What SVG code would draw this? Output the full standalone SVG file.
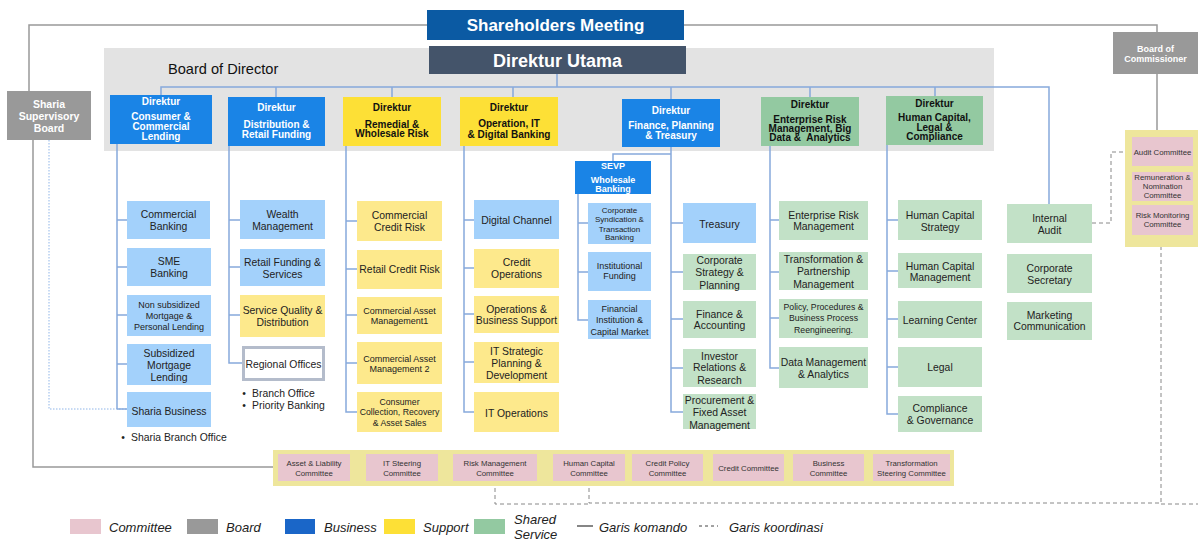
<svg xmlns="http://www.w3.org/2000/svg" width="1198" height="540" viewBox="0 0 1198 540">
<style>
text{font-family:"Liberation Sans",Arial,sans-serif;text-anchor:middle}
.t{font-size:10.4px;fill:#222}
.t9{font-size:9px;fill:#222}
.t8{font-size:8px;fill:#222}
.tc{font-size:7.8px;fill:#333}
.dw{font-size:10px;font-weight:bold;fill:#fff}
.dk{font-size:10px;font-weight:bold;fill:#111}
.lb{fill:#a3d1fb}
.ly{fill:#fde98c}
.lg{fill:#c2e1c7}
.db{fill:#1a84e6}
.dy{fill:#fde036}
.dg{fill:#93c9a1}
.gb{fill:#999}
.pk{fill:#e8c6cf}
.yc{fill:#eee69c}
.cn{fill:none;stroke:#87a9dc;stroke-width:1.5}
.gl{fill:none;stroke:#999;stroke-width:1.5}
.ds{fill:none;stroke:#888;stroke-width:1;stroke-dasharray:4 3}
.lt{font-size:13px;font-style:italic;fill:#222;text-anchor:start}
</style>

<rect id="bod-bg" x="104" y="48" width="890" height="103" fill="#e3e3e3"/>
<text x="168" y="74" style="font-size:14.6px;fill:#111;text-anchor:start">Board of Director</text>

<g id="connectors">
  <path class="gl" d="M29,91 V25 H1157 V33"/>
  <path class="gl" d="M1157,74 V130"/>
  <path class="gl" d="M33,140 V467 H273"/>
  <path d="M49,140 V409 H127" fill="none" stroke="#8fb5e8" stroke-width="1" stroke-dasharray="1.5 1.5"/>
  <path class="cn" d="M557,74 V87 M161,95 V87 H1049 V204 M276,87 V97 M392,87 V97 M513,87 V97 M671,87 V99 M810,87 V97 M935,87 V96"/>
  <path class="cn" d="M117,144 V409 M117,220 H127 M117,267 H127 M117,315 H127 M117,364 H127 M117,409 H127"/>
  <path class="cn" d="M229,146 V363 H242 M229,220 H240 M229,267 H240 M229,315 H240"/>
  <path class="cn" d="M346,146 V412 H357 M346,221 H357 M346,269 H357 M346,315 H357 M346,363 H357"/>
  <path class="cn" d="M464,146 V412 H474 M464,220 H474 M464,268 H474 M464,314 H474 M464,362 H474"/>
  <path class="cn" d="M671,147 V412 H683 M671,223 H683 M671,272 H683 M671,319 H683 M671,368 H683 M671,154 H613 V161"/>
  <path class="cn" d="M578,194 V320 H588 M578,223 H588 M578,272 H588"/>
  <path class="cn" d="M770,146 V368 H779 M770,220 H779 M770,272 H779 M770,318 H779"/>
  <path class="cn" d="M887,145 V414 H898 M887,220 H898 M887,271 H898 M887,319 H898 M887,367 H898"/>
  <path class="ds" d="M1092,223 H1111 V152 H1132"/>
  <path class="ds" d="M495,481 V504 H589"/>
  <path class="ds" d="M589,481 V503 H1161 V247"/>
  <path class="ds" d="M1161,504 H1198"/>
</g>

<g id="shareholders"><rect x="427" y="10" width="257" height="30" fill="#0b5aa3"/><text x="555.5" y="31" style="font-size:17px;font-weight:bold;fill:#fff">Shareholders Meeting</text></g>
<g id="direktur-utama"><rect x="429" y="46" width="257" height="28" fill="#44546a"/><text x="557.5" y="66.5" style="font-size:18px;font-weight:bold;fill:#fff">Direktur Utama</text></g>

<g id="sharia-supervisory"><rect class="gb" x="7" y="91" width="84" height="49"/><text class="dw" style="font-size:10.5px" x="49" y="107.7">Sharia</text><text class="dw" style="font-size:10.5px" x="49" y="119.7">Supervisory</text><text class="dw" style="font-size:10.5px" x="49" y="131.7">Board</text></g>
<g id="board-commissioner"><rect class="gb" x="1113" y="32" width="85" height="42"/><text class="dw" style="font-size:9px" x="1155.5" y="52.2">Board of</text><text class="dw" style="font-size:9px" x="1155.5" y="62.2">Commissioner</text></g>

<g id="dir-ccl"><rect class="db" x="110" y="95" width="102" height="49"/><text class="dw" x="161" y="105.2">Direktur</text><text class="dw" x="161" y="120.3">Consumer &amp;</text><text class="dw" x="161" y="130.3">Commercial</text><text class="dw" x="161" y="139.6">Lending</text></g>
<g id="dir-distribution"><rect class="db" x="228" y="97" width="97" height="49"/><text class="dw" x="276.5" y="111.3">Direktur</text><text class="dw" x="276.5" y="127.6">Distribution &amp;</text><text class="dw" x="276.5" y="137.6">Retail Funding</text></g>
<g id="dir-remedial"><rect class="dy" x="343" y="97" width="98" height="49"/><text class="dk" x="392" y="111">Direktur</text><text class="dk" x="392" y="127.6">Remedial &amp;</text><text class="dk" x="392" y="137">Wholesale Risk</text></g>
<g id="dir-operation"><rect class="dy" x="460" y="97" width="98" height="49"/><text class="dk" x="509" y="111">Direktur</text><text class="dk" x="509" y="127">Operation, IT</text><text class="dk" x="509" y="138.3">&amp; Digital Banking</text></g>
<g id="dir-finance"><rect class="db" x="622" y="99" width="98" height="48"/><text class="dw" x="671" y="113.6">Direktur</text><text class="dw" x="671" y="129">Finance, Planning</text><text class="dw" x="671" y="139">&amp; Treasury</text></g>
<g id="dir-erm"><rect class="dg" x="761" y="97" width="98" height="49"/><text class="dk" x="810" y="107.6">Direktur</text><text class="dk" x="810" y="122.6">Enterprise Risk</text><text class="dk" x="810" y="132">Management, Big</text><text class="dk" x="810" y="141">Data &amp;&#160; Analytics</text></g>
<g id="dir-hc"><rect class="dg" x="886" y="96" width="97" height="49"/><text class="dk" x="934.5" y="107">Direktur</text><text class="dk" x="934.5" y="121.3">Human Capital,</text><text class="dk" x="934.5" y="131">Legal &amp;</text><text class="dk" x="934.5" y="140.3">Compliance</text></g>

<g id="sevp"><rect class="db" x="575" y="161" width="76" height="33"/><text class="dw" style="font-size:9px" x="613" y="169">SEVP</text><text class="dw" style="font-size:9px" x="613" y="182.6">Wholesale</text><text class="dw" style="font-size:9px" x="613" y="191.6">Banking</text></g>

<!-- Column 1 -->
<g id="commercial-banking"><rect class="lb" x="127" y="201" width="83" height="38"/><text class="t" x="168.5" y="218">Commercial</text><text class="t" x="168.5" y="230">Banking</text></g>
<g id="sme-banking"><rect class="lb" x="127" y="248" width="84" height="38"/><text class="t" x="169" y="265">SME</text><text class="t" x="169" y="276.5">Banking</text></g>
<g id="non-subsidized"><rect class="lb" x="127" y="295" width="84" height="41"/><text class="t9" x="169" y="308">Non subsidized</text><text class="t9" x="169" y="319">Mortgage &amp;</text><text class="t9" x="169" y="330">Personal Lending</text></g>
<g id="subsidized"><rect class="lb" x="127" y="344" width="84" height="41"/><text class="t" x="169" y="356.5">Subsidized</text><text class="t" x="169" y="368.5">Mortgage</text><text class="t" x="169" y="381">Lending</text></g>
<g id="sharia-business"><rect class="lb" x="127" y="392" width="84" height="35"/><text class="t" x="169" y="414.5">Sharia Business</text></g>
<text class="t" x="131" y="441" style="text-anchor:start">Sharia Branch Office</text><text class="t" x="123" y="441">•</text>

<!-- Column 2 -->
<g id="wealth"><rect class="lb" x="240" y="200" width="85" height="39"/><text class="t" x="282.5" y="217.7">Wealth</text><text class="t" x="282.5" y="229.7">Management</text></g>
<g id="retail-funding"><rect class="lb" x="240" y="249" width="85" height="37"/><text class="t" x="282.5" y="266">Retail Funding &amp;</text><text class="t" x="282.5" y="277.7">Services</text></g>
<g id="service-quality"><rect class="ly" x="240" y="295" width="85" height="42"/><text class="t" x="282.5" y="314.4">Service Quality &amp;</text><text class="t" x="282.5" y="326">Distribution</text></g>
<g id="regional-offices"><rect x="243.5" y="347.5" width="80" height="32" fill="#fff" stroke="#b4bccb" stroke-width="3"/><text class="t" x="283.5" y="367.7">Regional Offices</text></g>
<text class="t" x="244" y="397">•</text><text class="t" x="252" y="397" style="text-anchor:start">Branch Office</text>
<text class="t" x="244" y="408.7">•</text><text class="t" x="252" y="408.7" style="text-anchor:start">Priority Banking</text>

<!-- Column 3 -->
<g id="commercial-credit-risk"><rect class="ly" x="357" y="201" width="85" height="40"/><text class="t" x="399.5" y="219.4">Commercial</text><text class="t" x="399.5" y="231">Credit Risk</text></g>
<g id="retail-credit-risk"><rect class="ly" x="357" y="250" width="85" height="39"/><text class="t" x="399.5" y="273">Retail Credit Risk</text></g>
<g id="cam1"><rect class="ly" x="357" y="297" width="85" height="37"/><text class="t9" x="399.5" y="314">Commercial Asset</text><text class="t9" x="399.5" y="324">Management1</text></g>
<g id="cam2"><rect class="ly" x="357" y="342" width="85" height="42"/><text class="t9" x="399.5" y="362">Commercial Asset</text><text class="t9" x="399.5" y="372">Management 2</text></g>
<g id="consumer-collection"><rect class="ly" x="357" y="392" width="85" height="40"/><text class="t9" style="font-size:8.7px" x="399.5" y="404.7">Consumer</text><text class="t9" style="font-size:8.7px" x="399.5" y="415">Collection, Recovery</text><text class="t9" style="font-size:8.7px" x="399.5" y="426.3">&amp; Asset Sales</text></g>

<!-- Column 4 -->
<g id="digital-channel"><rect class="lb" x="474" y="200" width="85" height="39"/><text class="t" x="516.5" y="224.4">Digital Channel</text></g>
<g id="credit-operations"><rect class="ly" x="474" y="249" width="85" height="39"/><text class="t" x="516.5" y="266.4">Credit</text><text class="t" x="516.5" y="278">Operations</text></g>
<g id="ops-business-support"><rect class="ly" x="474" y="296" width="85" height="37"/><text class="t" x="516.5" y="312.7">Operations &amp;</text><text class="t" x="516.5" y="324.4">Business Support</text></g>
<g id="it-strategic"><rect class="ly" x="474" y="342" width="85" height="41"/><text class="t" x="516.5" y="355.4">IT Strategic</text><text class="t" x="516.5" y="367">Planning &amp;</text><text class="t" x="516.5" y="379.4">Development</text></g>
<g id="it-operations"><rect class="ly" x="474" y="392" width="85" height="40"/><text class="t" x="516.5" y="417">IT Operations</text></g>

<!-- SEVP column -->
<g id="corp-syndication"><rect class="lb" x="588" y="203" width="63" height="41"/><text class="t8" x="619.5" y="212.8">Corporate</text><text class="t8" x="619.5" y="222.1">Syndication &amp;</text><text class="t8" x="619.5" y="231.5">Transaction</text><text class="t8" x="619.5" y="240.1">Banking</text></g>
<g id="institutional-funding"><rect class="lb" x="588" y="252" width="63" height="39"/><text class="t9" x="619.5" y="269.2">Institutional</text><text class="t9" x="619.5" y="279.2">Funding</text></g>
<g id="financial-institution"><rect class="lb" x="588" y="300" width="63" height="39"/><text class="t9" x="619.5" y="312.3">Financial</text><text class="t9" x="619.5" y="323.3">Institution &amp;</text><text class="t9" x="619.5" y="335">Capital Market</text></g>

<!-- Finance column -->
<g id="treasury"><rect class="lb" x="683" y="203" width="73" height="40"/><text class="t" x="719.5" y="227.7">Treasury</text></g>
<g id="corp-strategy"><rect class="lg" x="683" y="254" width="73" height="36"/><text class="t" x="719.5" y="264.4">Corporate</text><text class="t" x="719.5" y="276">Strategy &amp;</text><text class="t" x="719.5" y="288.7">Planning</text></g>
<g id="finance-accounting"><rect class="lg" x="683" y="301" width="73" height="37"/><text class="t" x="719.5" y="317.7">Finance &amp;</text><text class="t" x="719.5" y="329.4">Accounting</text></g>
<g id="investor-relations"><rect class="lg" x="683" y="349" width="73" height="38"/><text class="t" x="719.5" y="359.7">Investor</text><text class="t" x="719.5" y="371.4">Relations &amp;</text><text class="t" x="719.5" y="384.4">Research</text></g>
<g id="procurement"><rect class="lg" x="683" y="394" width="73" height="35"/><text class="t" x="719.5" y="403.7">Procurement &amp;</text><text class="t" x="719.5" y="415.7">Fixed Asset</text><text class="t" x="719.5" y="428.7">Management</text></g>

<!-- ERM column -->
<g id="erm"><rect class="lg" x="779" y="201" width="89" height="39"/><text class="t" x="823.5" y="218.7">Enterprise Risk</text><text class="t" x="823.5" y="229.7">Management</text></g>
<g id="transformation"><rect class="lg" x="779" y="252" width="89" height="38"/><text class="t" x="823.5" y="263">Transformation &amp;</text><text class="t" x="823.5" y="275.4">Partnership</text><text class="t" x="823.5" y="288">Management</text></g>
<g id="policy"><rect class="lg" x="779" y="299" width="89" height="39"/><text class="t9" style="font-size:8.7px" x="823.5" y="310.3">Policy, Procedures &amp;</text><text class="t9" style="font-size:8.7px" x="823.5" y="321.3">Business Process</text><text class="t9" style="font-size:8.7px" x="823.5" y="333">Reengineering.</text></g>
<g id="data-management"><rect class="lg" x="779" y="347" width="89" height="41"/><text class="t" x="823.5" y="366">Data Management</text><text class="t" x="823.5" y="377.7">&amp; Analytics</text></g>

<!-- HC column -->
<g id="hc-strategy"><rect class="lg" x="898" y="200" width="84" height="40"/><text class="t" x="940" y="219.4">Human Capital</text><text class="t" x="940" y="231">Strategy</text></g>
<g id="hc-management"><rect class="lg" x="898" y="253" width="84" height="35"/><text class="t" x="940" y="269.7">Human Capital</text><text class="t" x="940" y="281">Management</text></g>
<g id="learning-center"><rect class="lg" x="898" y="301" width="84" height="37"/><text class="t" x="940" y="324.4">Learning Center</text></g>
<g id="legal"><rect class="lg" x="898" y="347" width="84" height="40"/><text class="t" x="940" y="371.4">Legal</text></g>
<g id="compliance"><rect class="lg" x="898" y="396" width="84" height="36"/><text class="t" x="940" y="412">Compliance</text><text class="t" x="940" y="424">&amp; Governance</text></g>

<!-- Right column -->
<g id="internal-audit"><rect class="lg" x="1007" y="204" width="85" height="39"/><text class="t" x="1049.5" y="222">Internal</text><text class="t" x="1049.5" y="233.7">Audit</text></g>
<g id="corp-secretary"><rect class="lg" x="1007" y="254" width="85" height="39"/><text class="t" x="1049.5" y="272">Corporate</text><text class="t" x="1049.5" y="283.7">Secretary</text></g>
<g id="marketing-comm"><rect class="lg" x="1007" y="302" width="85" height="38"/><text class="t" x="1049.5" y="318.7">Marketing</text><text class="t" x="1049.5" y="330.4">Communication</text></g>

<!-- Board committees -->
<g id="board-committees">
  <rect class="yc" x="1125" y="130" width="73" height="117"/>
  <rect class="pk" x="1132" y="137" width="61" height="29"/><text class="tc" x="1162.5" y="155">Audit Committee</text>
  <rect class="pk" x="1132" y="172" width="61" height="29"/><text class="tc" x="1162.5" y="180">Remuneration &amp;</text><text class="tc" x="1162.5" y="188.7">Nomination</text><text class="tc" x="1162.5" y="197.7">Committee</text>
  <rect class="pk" x="1132" y="205" width="61" height="30"/><text class="tc" x="1162.5" y="218.4">Risk Monitoring</text><text class="tc" x="1162.5" y="227.4">Committee</text>
</g>

<!-- Director committees -->
<g id="director-committees">
  <rect class="yc" x="273" y="450" width="681" height="36"/>
  <rect class="pk" x="278" y="454" width="72" height="27"/><text class="tc" x="314" y="466">Asset &amp; Liability</text><text class="tc" x="314" y="476">Committee</text>
  <rect class="pk" x="366" y="454" width="72" height="27"/><text class="tc" x="402" y="466">IT Steering</text><text class="tc" x="402" y="476">Committee</text>
  <rect class="pk" x="453" y="454" width="84" height="27"/><text class="tc" x="495" y="466">Risk Management</text><text class="tc" x="495" y="476">Committee</text>
  <rect class="pk" x="553" y="454" width="72" height="27"/><text class="tc" x="589" y="466">Human Capital</text><text class="tc" x="589" y="476">Committee</text>
  <rect class="pk" x="632" y="454" width="71" height="27"/><text class="tc" x="667.5" y="466">Credit Policy</text><text class="tc" x="667.5" y="476">Committee</text>
  <rect class="pk" x="713" y="454" width="71" height="27"/><text class="tc" x="748.5" y="470.7">Credit Committee</text>
  <rect class="pk" x="793" y="454" width="71" height="27"/><text class="tc" x="828.5" y="466">Business</text><text class="tc" x="828.5" y="476">Committee</text>
  <rect class="pk" x="873" y="454" width="77" height="27"/><text class="tc" x="911.5" y="466">Transformation</text><text class="tc" x="911.5" y="476">Steering Committee</text>
</g>

<!-- Legend -->
<g id="legend">
  <rect class="pk" x="70" y="519" width="31" height="15"/><text class="lt" x="109" y="531.5">Committee</text>
  <rect class="gb" x="187" y="519" width="31" height="15"/><text class="lt" x="226" y="531.5">Board</text>
  <rect x="285" y="519" width="30" height="15" fill="#1a66c8"/><text class="lt" x="324" y="531.5">Business</text>
  <rect class="dy" x="384" y="519" width="31" height="15"/><text class="lt" x="423" y="531.5">Support</text>
  <rect class="dg" x="474" y="519" width="31" height="15"/><text class="lt" x="514" y="524">Shared</text><text class="lt" x="514" y="538.5">Service</text>
  <line x1="577" y1="526" x2="593" y2="526" stroke="#444" stroke-width="1.3"/><text class="lt" x="599" y="531.5">Garis komando</text>
  <line x1="699" y1="526" x2="718" y2="526" stroke="#444" stroke-width="1" stroke-dasharray="3 3"/><text class="lt" x="729" y="531.5">Garis koordinasi</text>
</g>
</svg>
